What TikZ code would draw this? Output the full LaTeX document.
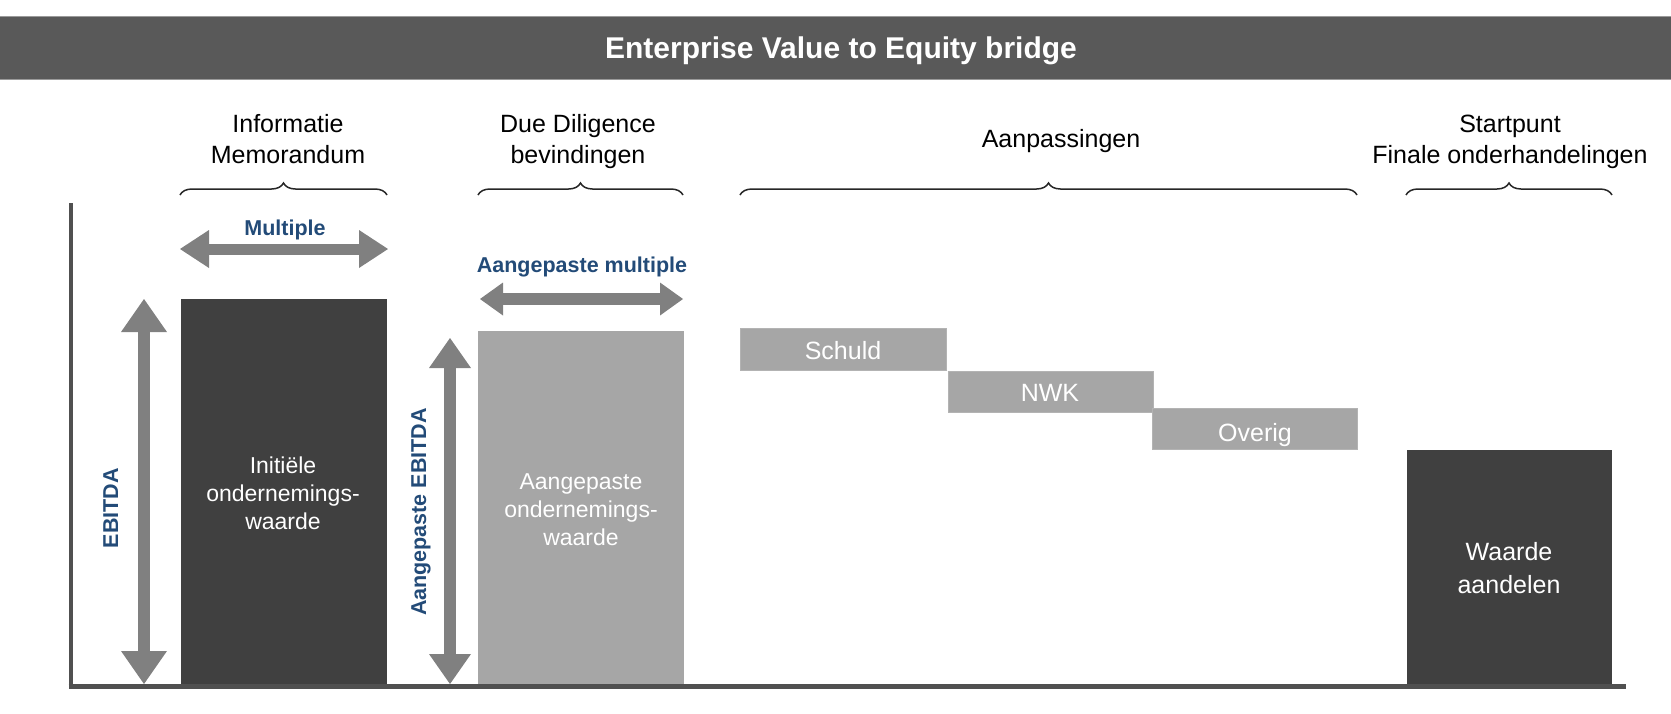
\documentclass[tikz,border=0pt]{standalone}
\usepackage{fontspec}
\setmainfont{Liberation Sans}
\usetikzlibrary{arrows.meta,decorations.pathreplacing}
\definecolor{hdrgray}{HTML}{595959}
\definecolor{hdredge}{HTML}{9A9A9A}
\definecolor{darkbox}{HTML}{404040}
\definecolor{lightbox}{HTML}{A6A6A6}
\definecolor{arrowgray}{HTML}{808080}
\definecolor{bluelbl}{RGB}{35,75,120}
\definecolor{axisgray}{HTML}{505050}
\definecolor{bracegray}{HTML}{262626}
\begin{document}
\begin{tikzpicture}[x=1pt,y=-1pt,
  hdrtext/.style={font=\fontsize{25}{31}\selectfont, align=center, text=black, inner sep=0pt},
  boxtext/.style={font=\fontsize{23}{28}\selectfont, align=center, text=white, inner sep=0pt},
  bigboxtext/.style={font=\fontsize{25}{33}\selectfont, align=center, text=white, inner sep=0pt},
  steptext/.style={font=\fontsize{25}{30}\selectfont, text=white, inner sep=0pt, anchor=base},
  bluetext/.style={font=\fontsize{21.5}{26}\selectfont\bfseries, text=bluelbl, inner sep=0pt, anchor=base},
  darkcol/.style={fill=darkbox, inner sep=0pt, draw=none},
  lightcol/.style={fill=lightbox, inner sep=0pt, draw=none},
  stepbox/.style={fill=lightbox, draw=lightbox!85!white, line width=0.6pt, inner sep=0pt},
  bracestyle/.style={draw=bracegray, line width=1.5pt, decorate, decoration={brace, amplitude=12pt}},
  blockarrow/.style={draw=arrowgray, line cap=butt},
]
\useasboundingbox (0,0) rectangle (1671,713);

% header bar
\node[fill=hdrgray, draw=hdredge, line width=1pt, minimum width=1673pt, minimum height=63pt, inner sep=0pt] (bar) at (835.5,47.5) {};
\node[font=\fontsize{30}{36}\selectfont\bfseries, text=white, anchor=base, inner sep=0pt] (title) at (841,58) {Enterprise Value to Equity bridge};

% column headers
\node[hdrtext] (h1) at (288,141.3) {\strut Informatie\\\strut Memorandum};
\node[hdrtext] (h2) at (578,141.3) {\strut Due Diligence\\\strut bevindingen};
\node[hdrtext] (h3) at (1061,141.3) {\strut Aanpassingen};
\node[hdrtext] (h4) at (1510,141.3) {\strut Startpunt\\\strut Finale onderhandelingen};

% braces
\coordinate (b1l) at (180,195); \coordinate (b1r) at (387,195);
\coordinate (b2l) at (478,195); \coordinate (b2r) at (683,195);
\coordinate (b3l) at (740,195); \coordinate (b3r) at (1357,195);
\coordinate (b4l) at (1406,195); \coordinate (b4r) at (1612,195);
\draw[bracestyle] (b1l) -- (b1r);
\draw[bracestyle] (b2l) -- (b2r);
\draw[bracestyle] (b3l) -- (b3r);
\draw[bracestyle] (b4l) -- (b4r);

% columns
\node[darkcol, minimum width=206pt, minimum height=385pt] (iv) at (284,491.5) {};
\node[lightcol, minimum width=206pt, minimum height=353pt] (av) at (581,507.5) {};
\node[stepbox, minimum width=206pt, minimum height=42pt] (schuld) at (843,349) {};
\node[stepbox, minimum width=205pt, minimum height=41pt] (nwk) at (1050.5,391.5) {};
\node[stepbox, minimum width=205pt, minimum height=41pt] (overig) at (1254.5,428.5) {};
\node[darkcol, minimum width=205pt, minimum height=234pt] (wa) at (1509.5,567) {};

% column texts
\node[boxtext] (ivtext) at (283,495.4) {\strut Initi\"ele\\\strut ondernemings-\\\strut waarde};
\node[boxtext] (avtext) at (581,511.4) {\strut Aangepaste\\\strut ondernemings-\\\strut waarde};
\node[bigboxtext] (watext) at (1509,570) {\strut Waarde\\\strut aandelen};
\node[steptext] (schuldtext) at (843,359) {Schuld};
\node[steptext] (nwktext) at (1050,401.7) {NWK};
\node[steptext] (overigtext) at (1255,441.7) {Overig};

% blue labels
\node[bluetext] (mult) at (285,235) {Multiple};
\node[bluetext] (amult) at (582,272) {Aangepaste multiple};
\node[bluetext, rotate=90] (ebitda) at (118,508) {EBITDA};
\node[bluetext, rotate=90] (aebitda) at (426,512) {Aangepaste EBITDA};

% block arrows
\coordinate (e1t) at (144,299); \coordinate (e1b) at (144,684);
\coordinate (e2t) at (450,338); \coordinate (e2b) at (450,684);
\coordinate (m1l) at (180,249); \coordinate (m1r) at (388,249);
\coordinate (m2l) at (480,299); \coordinate (m2r) at (683,299);
\draw[blockarrow, line width=12pt, {Triangle[width=46pt,length=33pt,line width=0pt]}-{Triangle[width=46pt,length=33pt,line width=0pt]}] (e1t) -- (e1b);
\draw[blockarrow, line width=12pt, {Triangle[width=42pt,length=30pt,line width=0pt]}-{Triangle[width=42pt,length=30pt,line width=0pt]}] (e2t) -- (e2b);
\draw[blockarrow, line width=11pt, {Triangle[width=38pt,length=29pt,line width=0pt]}-{Triangle[width=38pt,length=29pt,line width=0pt]}] (m1l) -- (m1r);
\draw[blockarrow, line width=12pt, {Triangle[width=33pt,length=23pt,line width=0pt]}-{Triangle[width=33pt,length=23pt,line width=0pt]}] (m2l) -- (m2r);

% axes
\coordinate (axtop) at (70.5,203);
\coordinate (axcorner) at (70.5,686.5);
\coordinate (axend) at (1626,686.5);
\draw[axisgray, line width=4pt] (axtop) -- (axcorner);
\draw[axisgray, line width=5pt] ([xshift=-2pt]axcorner) -- (axend);
\end{tikzpicture}
\end{document}
